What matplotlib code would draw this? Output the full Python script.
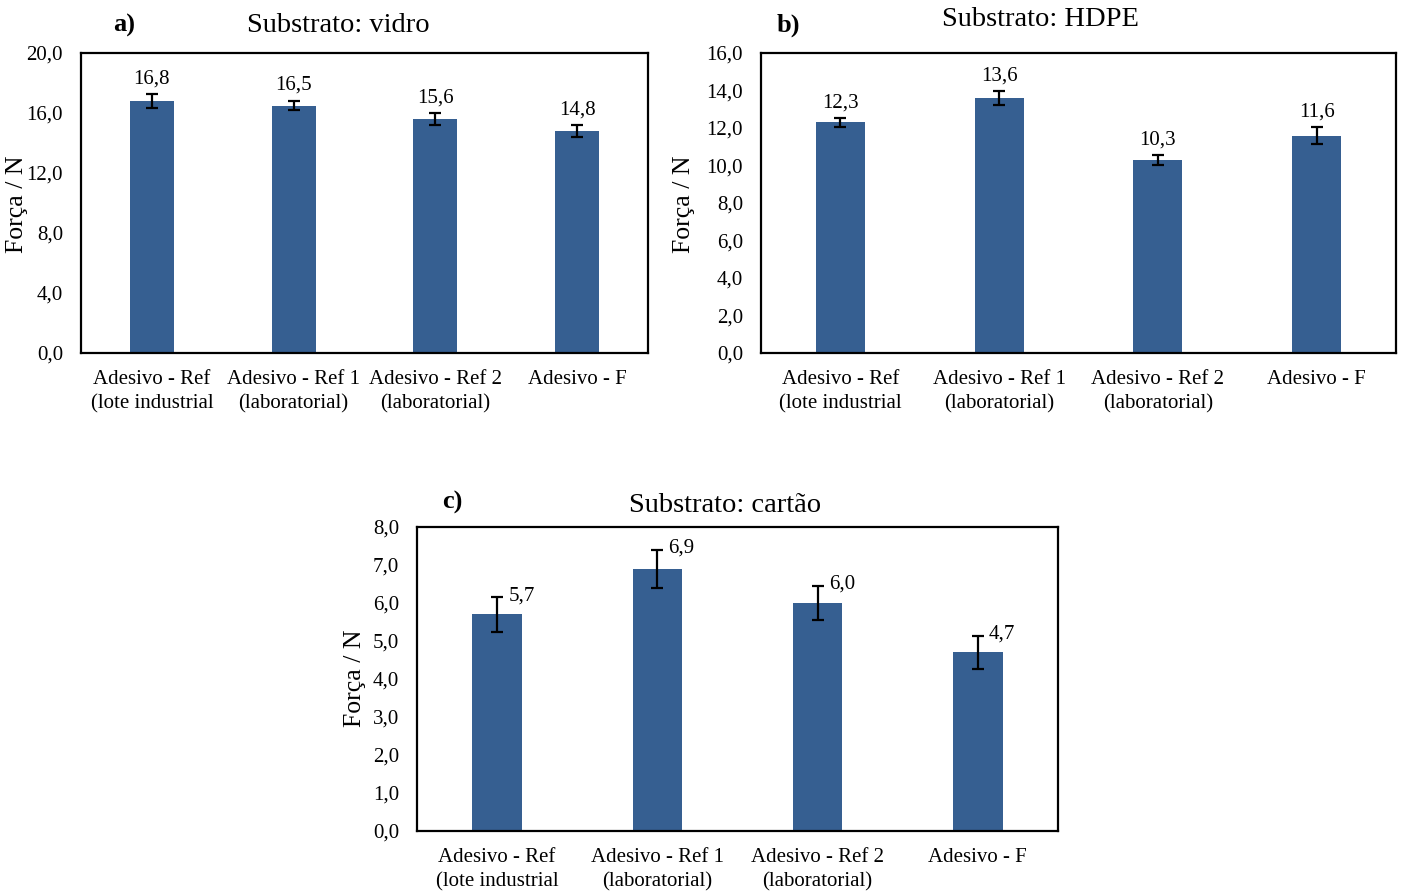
import numpy as np
import matplotlib
matplotlib.use("Agg")
import matplotlib.pyplot as plt
from matplotlib.ticker import FuncFormatter, MultipleLocator

plt.rcParams['font.family'] = ['Liberation Serif', 'DejaVu Serif']

categories = ["Adesivo - Ref\n(lote industrial", "Adesivo - Ref 1\n(laboratorial)",
              "Adesivo - Ref 2\n(laboratorial)", "Adesivo - F"]

vidro = [16.8, 16.5, 15.6, 14.8]
vidro_err = [0.47, 0.33, 0.37, 0.38]

hdpe = [12.3, 13.6, 10.3, 11.6]
hdpe_err = [0.23, 0.39, 0.27, 0.44]

cartao = [5.7, 6.9, 6.0, 4.7]
cartao_err = [0.45, 0.5, 0.46, 0.44]

BAR = '#365F91'
W, H = 1402, 892

fig = plt.figure(figsize=(W / 100, H / 100), dpi=100)


def px_axes(x0, y0, x1, y1):
    return fig.add_axes([x0 / W, 1 - y1 / H, (x1 - x0) / W, (y1 - y0) / H])


def comma(v, pos):
    return f"{v:.1f}".replace('.', ',')


def draw(ax, vals, errs, ymax, step, side_labels=False):
    x = np.arange(len(vals))
    ax.bar(x, vals, width=0.31, color=BAR, zorder=2)
    ax.errorbar(x, vals, yerr=errs, fmt='none', ecolor='black',
                elinewidth=1.6, capsize=4.5, capthick=1.6, zorder=3)
    for xi, v, e in zip(x, vals, errs):
        lab = f"{v:.1f}".replace('.', ',')
        if side_labels:
            ax.annotate(lab, (xi, v + e), xytext=(8, 1), textcoords='offset points',
                        ha='left', va='center', fontsize=15)
        else:
            ax.annotate(lab, (xi, v + e), xytext=(0, 4), textcoords='offset points',
                        ha='center', va='bottom', fontsize=15)
    ax.set_xlim(-0.5, len(vals) - 0.5)
    ax.set_ylim(0, ymax)
    ax.yaxis.set_major_locator(MultipleLocator(step))
    ax.yaxis.set_major_formatter(FuncFormatter(comma))
    ax.set_xticks(x)
    ax.set_xticklabels(categories, fontsize=15, linespacing=1.4)
    ax.tick_params(axis='y', length=0, pad=13, labelsize=15)
    ax.tick_params(axis='x', length=0, pad=12)
    for s in ax.spines.values():
        s.set_linewidth(1.6)
        s.set_color('black')


ax_a = px_axes(81, 53, 648, 353)
draw(ax_a, vidro, vidro_err, 20, 4)
ax_b = px_axes(761, 53, 1396, 353)
draw(ax_b, hdpe, hdpe_err, 16, 2)
ax_c = px_axes(417, 527, 1058, 831)
draw(ax_c, cartao, cartao_err, 8, 1, side_labels=True)

# titles, panel letters and y labels
fig.text(338 / W, 1 - 26 / H, "Substrato: vidro", ha='center', va='center', fontsize=20.5)
fig.text(124 / W, 1 - 25 / H, "a)", ha='center', va='center', fontsize=19, fontweight='bold')
fig.text(1040 / W, 1 - 19 / H, "Substrato: HDPE", ha='center', va='center', fontsize=20.5)
fig.text(788 / W, 1 - 25 / H, "b)", ha='center', va='center', fontsize=19, fontweight='bold')
fig.text(725 / W, 1 - 506 / H, "Substrato: cartão", ha='center', va='center', fontsize=20.5)
fig.text(452 / W, 1 - 502 / H, "c)", ha='center', va='center', fontsize=19, fontweight='bold')

fig.text(17 / W, 1 - 204 / H, "Força / N", ha='center', va='center', rotation=90, fontsize=18.5)
fig.text(684 / W, 1 - 204 / H, "Força / N", ha='center', va='center', rotation=90, fontsize=18.5)
fig.text(355 / W, 1 - 678 / H, "Força / N", ha='center', va='center', rotation=90, fontsize=18.5)

fig.savefig("out.png", dpi=100)
